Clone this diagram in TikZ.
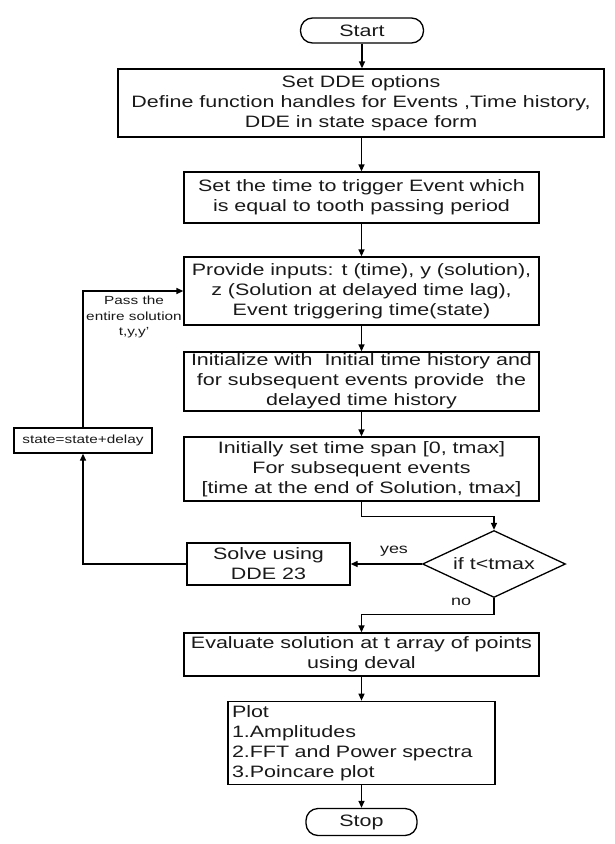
\documentclass[tikz,border=0pt]{standalone}
\usepackage{fontspec}
\setmainfont[FakeStretch=1.3]{Liberation Sans}
\usetikzlibrary{arrows.meta,shapes.geometric}
\tikzset{every node/.style={font=\fontsize{16.5}{20}\selectfont, text=black!90}}
\tikzset{stepbox/.style={draw, rectangle, line width=1.3pt, inner sep=1pt, align=center}}
\tikzset{termbox/.style={draw, rectangle, rounded corners=12pt, line width=1.3pt, inner sep=0pt}}
\tikzset{smalltext/.style={font=\fontsize{11.8}{15.3}\selectfont, align=center}}
\tikzset{arr/.style={draw, -{Triangle[length=7pt,width=6pt]}, line width=1.3pt}}

\begin{document}
\begin{tikzpicture}[x=1pt,y=1pt]
			\useasboundingbox (0,0) rectangle (614,-844);
			\node[termbox, minimum width=123, minimum height=25] (start) at (362,-30.5){Start};
			\node[stepbox, minimum width=486, minimum height=68] (opts) at (361,-103){Set DDE options\\Define function handles for Events ,Time history,\\DDE in state space form};
			\node[stepbox, minimum width=355, minimum height=51] (trig) at (361.5,-197.5){Set the time to trigger Event which\\is equal to tooth passing period};
			\node[stepbox, minimum width=355, minimum height=68] (inputs) at (361.5,-291){Provide inputs: t (time), y (solution),\\z (Solution at delayed time lag),\\Event triggering time(state)};
			\node[stepbox, minimum width=355, minimum height=59] (init) at (361.5,-381.5){Initialize with~ Initial time history and\\for subsequent events provide~ the\\delayed time history};
			\node[stepbox, minimum width=355, minimum height=64] (span) at (361.5,-469){Initially set time span [0, tmax]\\For subsequent events\\{[}time at the end of Solution, tmax]};
			\node[draw, diamond, aspect=2.13, line width=1.3pt, inner sep=0pt, minimum width=143, minimum height=67] (cond) at (494,-564){if t<tmax};
			\node[stepbox, minimum width=163, minimum height=42] (solve) at (268.5,-564){Solve using\\DDE 23};
			\node[stepbox, smalltext, minimum width=138, minimum height=25] (state) at (83,-440.5){state=state+delay};
			\node[stepbox, minimum width=355, minimum height=43] (eval) at (361.5,-654.5){Evaluate solution at t array of points\\using deval};
			\node[stepbox, align=left, text width=259, inner sep=4pt, minimum height=80] (plot) at (361.5,-743){Plot\\1.Amplitudes\\2.FFT and Power spectra\\3.Poincare plot};
			\node[termbox, minimum width=111, minimum height=27] (stop) at (361.5,-822){Stop};
			
			% labels on the loop and the branches
			\node[smalltext] (passlbl) at (134,-317){Pass the\\entire solution\\t,y,y'};
			\node[font=\fontsize{13.8}{16}\selectfont] (yeslbl) at (394,-551){yes};
			\node[font=\fontsize{13.8}{16}\selectfont] (nolbl) at (461,-602){no};
			
			\begin{scope}[arr]
				\draw (start.south) -- (start.south |- opts.north);
				\draw (opts.south -| trig.north) -- (trig.north);
				\draw (trig) -- (inputs);
				\draw (inputs) -- (init);
				\draw (init) -- (span);
				\draw (span.south) -- ++(0,-15) -| (cond.north);
				\draw (cond.west) -- (solve.east);
				\draw (cond.south) -- ++(0,-16) -| (eval.north);
				\draw (eval) -- (plot);
				\draw (plot) -- (stop);
				\draw (solve.west) -| (state.south);
				\draw (state.north) |- (inputs.west);
			\end{scope}
		\end{tikzpicture}
\end{document}
